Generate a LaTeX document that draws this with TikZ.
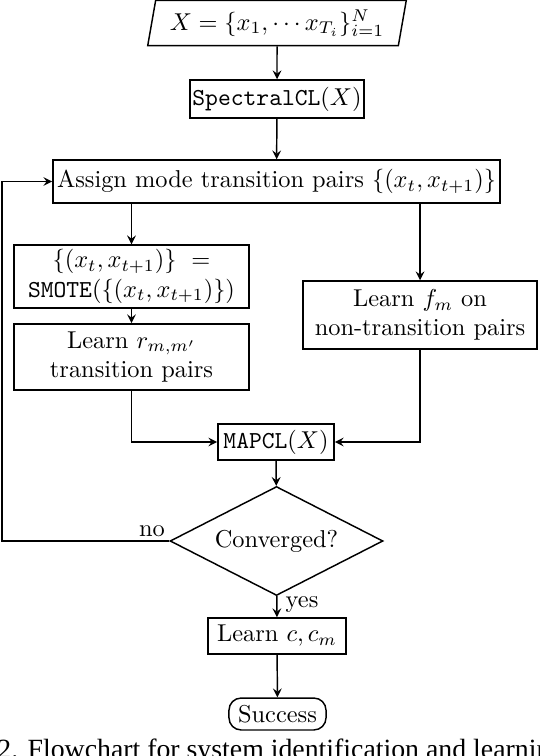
\documentclass[tikz,border=0pt]{standalone}
\usepackage{fontspec}
\newfontfamily\capfont{Liberation Serif}
\usepackage{tikz}
\usetikzlibrary{shapes.geometric,arrows,positioning}
\tikzstyle{block} = [rectangle, draw, semithick, text centered, inner sep=1pt]
\tikzstyle{io} = [trapezium, trapezium left angle=76, trapezium right angle=104, trapezium stretches body, draw, semithick, inner sep=1pt]
\tikzstyle{decision} = [diamond, draw, semithick, aspect=2, inner sep=1pt, minimum width=87.3pt, minimum height=44.7pt]
\tikzstyle{terminal} = [rectangle, draw, semithick, rounded corners=5pt, inner sep=1pt]
\tikzstyle{line} = [draw, semithick, ->]

\begin{document}
\begin{tikzpicture}[x=0.41pt, y=-0.41pt, >=stealth]
  \useasboundingbox (0,0) rectangle (540,756);
  \node[io, minimum width=106pt, minimum height=18.5pt] (data) at (277,23) {$X = \{x_1, \cdots x_{T_i}\}_{i=1}^N$};
  \node[block, minimum width=70.5pt, minimum height=15.6pt] (spec) at (277,99) {\texttt{SpectralCL}$(X)$};
  \node[block, minimum width=183.3pt, minimum height=17.6pt] (assign) at (276.5,181.5) {Assign mode transition pairs $\{(x_t, x_{t+1})\}$};
  \node[block, align=center, minimum width=96.4pt, minimum height=25.8pt] (smote) at (131.5,276.5) {$\{(x_t, x_{t+1})\}\ =$\\\texttt{SMOTE}$(\{(x_t, x_{t+1})\})$};
  \node[block, align=center, minimum width=96.4pt, minimum height=27.1pt] (learnr) at (131.5,357) {Learn $r_{m,m'}$\\transition pairs};
  \node[block, align=center, minimum width=96pt, minimum height=27.9pt] (learnf) at (420,315) {Learn $f_m$ on\\non-transition pairs};
  \node[block, minimum width=47.6pt, minimum height=14.8pt] (mapcl) at (276,442) {\texttt{MAPCL}$(X)$};
  \node[decision] (conv) at (276.5,541) {Converged?};
  \node[block, minimum width=56.6pt, minimum height=14.8pt] (learnc) at (277,636) {Learn $c, c_m$};
  \node[terminal, minimum width=39.8pt, minimum height=13.1pt] (success) at (277.5,714) {Success};
  \coordinate (back) at (2,0);
  % connectors
  \path[line] (data) -- (spec);
  \path[line] (spec) -- (assign);
  \path[line] (assign.south -| smote.north) -- (smote.north);
  \path[line] (assign.south -| learnf.north) -- (learnf.north);
  \path[line] (smote) -- (learnr);
  \path[line] (learnr.south) |- (mapcl.west);
  \path[line] (learnf.south) |- (mapcl.east);
  \path[line] (mapcl) -- (conv);
  \path[line] (conv) -- node[right, pos=0.4] {yes} (learnc);
  \path[line] (conv.west) node[above left, inner sep=1.5pt] {no} -- (conv.west -| back) |- (assign.west);
  \path[line] (learnc) -- (success);
  % caption, cut by the page
  \node[anchor=base west, inner sep=0pt, font=\capfont\fontsize{11.4}{13}\selectfont] (caption) at (-3,758) {2. Flowchart for system identification and learning};
\end{tikzpicture}
\end{document}
